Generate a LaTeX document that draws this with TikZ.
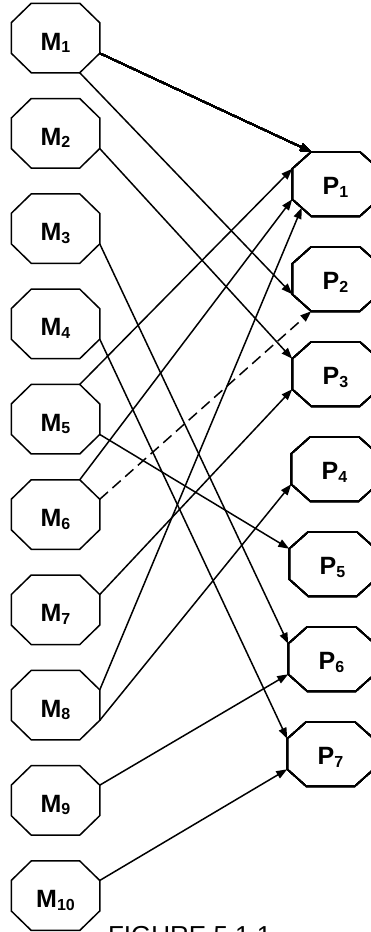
\documentclass[tikz,border=0pt]{standalone}
\usepackage{fontspec}
\setmainfont{Liberation Sans}
\usetikzlibrary{arrows.meta,calc}

\newcommand{\sub}[1]{\raisebox{-2.5pt}{\fontsize{16}{16}\selectfont #1}}
% octagon round a node, corners named (node tl) ... (node lt)
\newcommand{\octagon}[3]{%
  \draw ($(#1.north west)+(#2,0)$) coordinate (#1 tl)
    -- ($(#1.north east)+(-#2,0)$) coordinate (#1 tr)
    -- ($(#1.north east)+(0,-#3)$) coordinate (#1 rt)
    -- ($(#1.south east)+(0,#3)$) coordinate (#1 rb)
    -- ($(#1.south east)+(-#2,0)$) coordinate (#1 br)
    -- ($(#1.south west)+(#2,0)$) coordinate (#1 bl)
    -- ($(#1.south west)+(0,#3)$) coordinate (#1 lb)
    -- ($(#1.north west)+(0,-#3)$) coordinate (#1 lt)
    -- cycle;}

\begin{document}
\begin{tikzpicture}[x=1pt,y=1pt,>={Triangle[length=11pt,width=8pt]},line width=1.5pt,
  mbox/.style={minimum width=87pt,minimum height=68pt,inner sep=0pt,text height=24pt,text depth=0pt,font=\bfseries\fontsize{25}{25}\selectfont},
  pbox/.style={minimum width=85pt,minimum height=63pt,inner sep=0pt,text height=21pt,text depth=0pt,font=\bfseries\fontsize{25}{25}\selectfont}]
\useasboundingbox (0,0) rectangle (371,-932);
\foreach \i in {1,...,10} \node[mbox] (M\i) at (55.5,{-38-95.3*(\i-1)}) {M\sub{\i}};
\foreach \i/\x in {1/335.5,2/335.5,3/335.5,4/334.5,5/332.5,6/331.5,7/330.5}
  \node[pbox] (P\i) at (\x,{-184-95*(\i-1)}) {P\sub{\i}};
\foreach \i in {1,...,10} \octagon{M\i}{20}{19.5}
\foreach \i in {1,...,7} \octagon{P\i}{19}{17}
\draw[->] (M1 rb) -- (P1 tl);
\draw[->] (M1 br) -- (P2 lb);
\draw[->] (M2 rb) -- (P3 lt);
\draw[->] (M3 rb) -- (P6 lt);
\draw[->] (M4 rb) -- (P7 lt);
\draw[->] (M5 tr) -- (P1 lt);
\draw[->] (M5 rb) -- (P5 lt);
\draw[->] (M6 tr) -- (P1 lb);
\draw[->,dash pattern=on 11pt off 6pt] (M6 rt) -- (P2 bl);
\draw[->] (M7 rt) -- (P3 lb);
\draw[->] (M8 rt) -- ($(P1 lb)!.5!(P1 bl)$);
\draw[->] (M8 rb) -- (P4 lb);
\draw[->] (M9 rt) -- (P6 lb);
\draw[->] (M10 rt) -- (P7 lb);
\node[anchor=base west,font=\fontsize{26}{26}\selectfont] (cap) at (104,-944) {FIGURE 5.1.1};
\end{tikzpicture}
\end{document}
